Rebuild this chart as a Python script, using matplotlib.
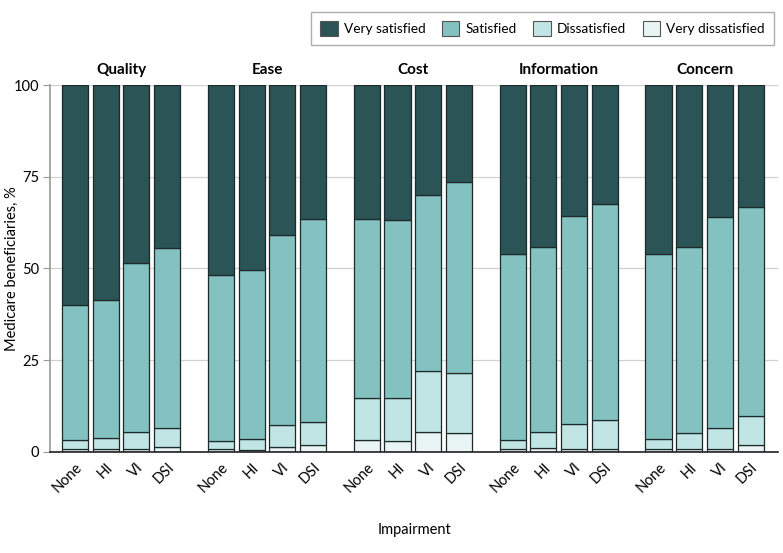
import matplotlib
matplotlib.use("Agg")
import matplotlib.pyplot as plt
from matplotlib.patches import Patch
import numpy as np

plt.rcParams['font.family'] = ['Lato', 'DejaVu Sans']

domains = ["Quality", "Ease", "Cost", "Information", "Concern"]
impairments = ["None", "HI", "VI", "DSI"]
levels = ["Very satisfied", "Satisfied", "Dissatisfied", "Very dissatisfied"]

# percentages per domain, in impairment order None, HI, VI, DSI
very_dissatisfied = [
    [0.7, 0.7, 0.7, 1.4],
    [0.7, 0.4, 1.2, 1.9],
    [3.2, 2.9, 5.3, 5.0],
    [0.7, 1.1, 0.9, 0.9],
    [0.7, 0.85, 0.7, 1.9],
]
dissatisfied = [
    [2.5, 3.2, 4.8, 5.2],
    [2.2, 3.0, 6.0, 6.1],
    [11.4, 11.9, 16.7, 16.5],
    [2.5, 4.4, 6.8, 7.85],
    [2.8, 4.15, 5.9, 7.8],
]
satisfied = [
    [36.8, 37.6, 45.9, 48.9],
    [45.3, 46.1, 51.8, 55.4],
    [48.9, 48.3, 48.1, 52.0],
    [50.8, 50.4, 56.6, 58.75],
    [50.4, 50.9, 57.45, 57.1],
]
very_satisfied = [
    [60.0, 58.5, 48.6, 44.5],
    [51.8, 50.5, 41.0, 36.6],
    [36.5, 36.9, 29.9, 26.5],
    [46.0, 44.1, 35.7, 32.5],
    [46.1, 44.1, 35.95, 33.2],
]

colors = {
    "Very satisfied": "#2a5455",
    "Satisfied": "#84c2c1",
    "Dissatisfied": "#c0e5e4",
    "Very dissatisfied": "#e9f4f4",
}

fig = plt.figure(figsize=(7.83, 5.53), dpi=100)
ax = fig.add_axes([0.064, 0.183, 0.93, 0.663])

group_step = 4.75
width = 0.85
edge = "#1e2a2a"

xs = []
labels = []
for g, dom in enumerate(domains):
    x = g * group_step + np.arange(len(impairments))
    xs.extend(x)
    labels.extend(impairments)
    bottom = np.zeros(len(impairments))
    stack = [
        ("Very dissatisfied", very_dissatisfied[g]),
        ("Dissatisfied", dissatisfied[g]),
        ("Satisfied", satisfied[g]),
        ("Very satisfied", very_satisfied[g]),
    ]
    for name, vals in stack:
        vals = np.array(vals)
        ax.bar(x, vals, width, bottom=bottom, color=colors[name],
               edgecolor=edge, linewidth=0.9, zorder=3)
        bottom += vals
    ax.text(x.mean(), 1.04, dom, transform=ax.get_xaxis_transform(),
            ha="center", va="center", fontsize=11, fontweight="bold")

ax.set_xlim(-0.81, 22.9)
ax.set_ylim(0, 100)
ax.set_yticks([0, 25, 50, 75, 100])
ax.yaxis.grid(True, color="#d0d0d0", linewidth=0.9, zorder=0)
ax.set_xticks(xs)
ax.set_xticklabels(labels, rotation=45, ha="right", rotation_mode="anchor",
                   fontsize=10.5)
ax.tick_params(axis="x", length=0, pad=6)
ax.tick_params(axis="y", length=5, color="#999999", labelsize=10.5, pad=3)
for s in ["top", "right"]:
    ax.spines[s].set_visible(False)
ax.spines["left"].set_color("#999999")
ax.spines["left"].set_linewidth(1.2)
ax.spines["bottom"].set_color("#222222")
ax.spines["bottom"].set_linewidth(1.2)
ax.spines["bottom"].set_zorder(4)

fig.text(12 / 783, (0.183 + 0.846) / 2, "Medicare beneficiaries, %",
         rotation=90, ha="center", va="center", fontsize=10.5)
ax.set_xlabel("Impairment", fontsize=10.5, labelpad=20)

handles = [Patch(facecolor=colors[l], edgecolor="#555555", linewidth=0.8, label=l)
           for l in levels]
leg = fig.legend(handles=handles, loc="upper right", ncol=4,
                 bbox_to_anchor=(0.997, 0.99), fontsize=9.8, frameon=True,
                 fancybox=False, edgecolor="#999999", handlelength=1.3,
                 handleheight=1.3, columnspacing=1.2, handletextpad=0.45,
                 borderpad=0.65)
leg.get_frame().set_linewidth(1.0)

fig.savefig("out.png", dpi=100)
